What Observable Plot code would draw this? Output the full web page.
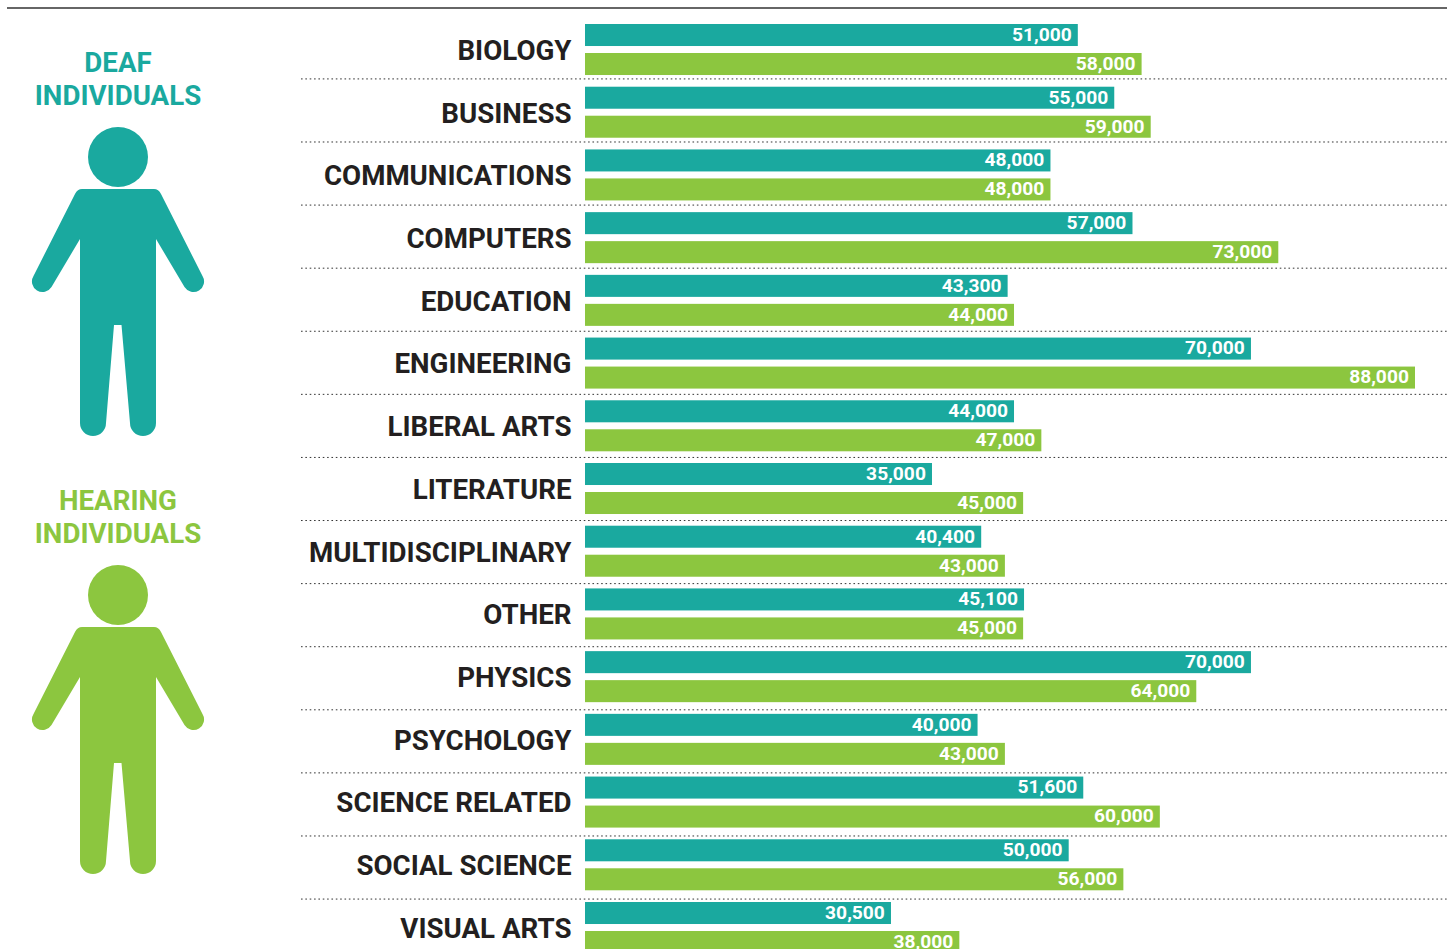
<!DOCTYPE html>
<html>
<head>
<meta charset="utf-8">
<script src="https://cdn.jsdelivr.net/npm/d3@7"></script>
<script src="https://cdn.jsdelivr.net/npm/@observablehq/plot@0.6"></script>
<style>
html,body{margin:0;padding:0;background:#fff;width:1453px;height:949px;overflow:hidden;font-family:Roboto,sans-serif}
#chart,#icons{position:absolute;left:0;top:0}
#chart svg{display:block}
#rule{position:absolute;left:7px;width:1440px;top:7px;height:2px;background:#666}
.who{position:absolute;left:0;width:236px;text-align:center;font:700 27.7px/33px Roboto,sans-serif}
</style>
</head>
<body>
<div id="chart"></div>
<div id="rule"></div>
<svg id="icons" width="236" height="949"></svg>
<div class="who" style="top:46px;color:#1aa99f">DEAF<br>INDIVIDUALS</div>
<div class="who" style="top:484px;color:#8cc63f">HEARING<br>INDIVIDUALS</div>
<script>
const categories = ["BIOLOGY","BUSINESS","COMMUNICATIONS","COMPUTERS","EDUCATION","ENGINEERING","LIBERAL ARTS","LITERATURE","MULTIDISCIPLINARY","OTHER","PHYSICS","PSYCHOLOGY","SCIENCE RELATED","SOCIAL SCIENCE","VISUAL ARTS"];
const deaf = [51000,55000,48000,57000,43300,70000,44000,35000,40400,45100,70000,40000,51600,50000,30500];
const hearing = [58000,59000,48000,73000,44000,88000,47000,45000,43000,45000,64000,43000,60000,56000,38000];
const teal = "#1aa99f", green = "#8cc63f";
const axisStart = -3074;            // the bars' common left edge is below zero in the source
const rows = categories.map((category,i)=>({category,deaf:deaf[i],hearing:hearing[i]}));

function series(key,color,dy){
  return [
    Plot.barX(rows,{y:"category",x1:()=>axisStart,x2:key,fill:color,dy,insetTop:20.35,insetBottom:20.35}),
    Plot.text(rows,{y:"category",x:key,text:d=>d3.format(",")(d[key]),dy:dy-0.8,dx:-6.6,textAnchor:"end",fill:"#fff",fontSize:19.2,fontWeight:700})
  ];
}
// separators run at a slightly wider pitch than the rows
const separators = categories.slice(0,14).map((c,i)=>
  Plot.ruleY([c],{stroke:"#333",strokeWidth:1,strokeDasharray:"1.6 2.75",dy:28.9+i*0.375})
);
const plot = Plot.plot({
  width:1453,height:949,
  marginLeft:301,marginRight:6,marginTop:0,marginBottom:0,
  style:{fontFamily:"Roboto, sans-serif",background:"transparent"},
  x:{domain:[axisStart,88000],range:[585,1415],axis:null},
  y:{domain:categories,range:[18.15,958.86],padding:0,round:false,axis:null,type:"band"},
  marks:[
    ...separators,
    ...series("deaf",teal,-14.5),
    ...series("hearing",green,14.5),
    Plot.text(rows,{y:"category",x:()=>axisStart,text:"category",dx:-14,dy:1,textAnchor:"end",fill:"#231f20",fontSize:27.7,fontWeight:700})
  ]
});
document.getElementById("chart").append(plot);

// person pictograms
const person = "M82 189H154Q158.5 189 161 194L202.5 276A10.5 10.5 0 1 1 184.5 287L156 239V423A13 13 0 0 1 130 423L121.5 325H114L106 423A13 13 0 0 1 80 423V239L51.5 287A10.5 10.5 0 1 1 33.5 276L75 194Q77.5 189 82 189Z";
const icons = d3.select("#icons");
[[0,teal],[438,green]].forEach(([off,c])=>{
  const g = icons.append("g").attr("transform",`translate(0,${off})`).attr("fill",c);
  g.append("circle").attr("cx",118).attr("cy",157).attr("r",30);
  g.append("path").attr("d",person);
});
</script>
</body>
</html>
